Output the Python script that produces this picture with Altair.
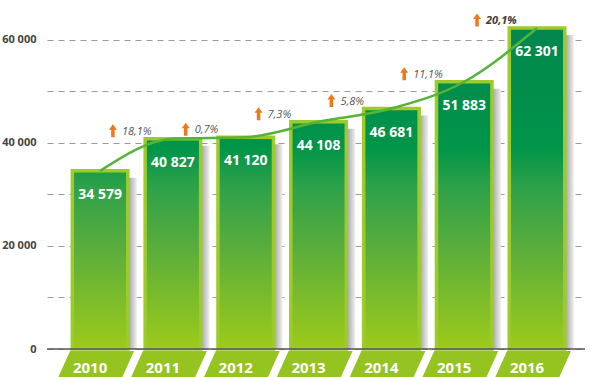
import altair as alt
import pandas as pd

# ---- data ----
years = [2010, 2011, 2012, 2013, 2014, 2015, 2016]
sales = [34579, 40827, 41120, 44108, 46681, 51883, 62301]
growth_years = [2011, 2012, 2013, 2014, 2015, 2016]
growth_labels = ["18,1%", "0,7%", "7,3%", "5,8%", "11,1%", "20,1%"]
y_ticks = [0, 10000, 20000, 30000, 40000, 50000, 60000]

df = pd.DataFrame({"year": years, "value": sales})
gdf = pd.DataFrame({
    "year": growth_years,
    "label": growth_labels,
    "value": [sales[years.index(y)] for y in growth_years],
})

# ---- layout / style ----
W, H = 538, 340
FONT = "Open Sans"
x_scale = alt.Scale(domain=[2009.34, 2016.59], nice=False, zero=False)
y_scale = alt.Scale(domain=[0, 66000], nice=False)
X = alt.X("year:Q", scale=x_scale, axis=None)
label_expr = ("datum.value % 20000 == 0 ? "
              "replace(format(datum.value, ','), ',', ' ') : ''")
Y = alt.Y("value:Q", scale=y_scale, axis=alt.Axis(
    values=y_ticks, labelExpr=label_expr, ticks=False, domain=False,
    grid=True, gridDash=[6, 5], gridColor="#9a9a9a", gridWidth=1,
    labelFont=FONT, labelFontWeight="bold", labelFontSize=11,
    labelColor="#444444", labelPadding=11, title=None))

G_TOP = 63000
stops = [("#03854f", 0.0), ("#009549", 0.38), ("#2ea14a", 0.5),
         ("#5cae3b", 0.7), ("#9dca1a", 1.0)]
BAR_W = 55.5

PARA = "M -0.631 -0.375 L 0.969 -0.375 L 0.631 0.375 L -0.969 0.375 Z"
ARROW = "M 0 -1 L 0.62 -0.15 L 0.27 -0.15 L 0.27 1 L -0.27 1 L -0.27 -0.15 L -0.62 -0.15 Z"

base = alt.Chart(df)

shadow = base.mark_bar(
    width=BAR_W, xOffset=9, yOffset=7, y2Offset=0,
    fill={"gradient": "linear", "x1": 0, "x2": 1, "y1": 0, "y2": 0,
          "stops": [{"color": "#a0a0a0", "offset": 0},
                    {"color": "#a0a0a0", "offset": 0.84},
                    {"color": "#f0f0f0", "offset": 1}]},
).encode(x=X, y=Y, y2=alt.datum(0))

bars = []
for yr, v in zip(years, sales):
    y1 = 1 - G_TOP / v
    grad = {"gradient": "linear", "x1": 0, "x2": 0, "y1": y1, "y2": 1,
            "stops": [{"color": c, "offset": o} for c, o in stops]}
    bars.append(
        base.transform_filter(alt.datum.year == yr)
        .mark_bar(width=BAR_W, fill=grad, stroke="#9ccb2b", strokeWidth=3.5)
        .encode(x=X, y=Y)
    )

trend = base.mark_line(interpolate="monotone", stroke="#55b337",
                       strokeWidth=2.5).encode(x=X, y=Y)

value_text = base.transform_calculate(
    lab="replace(format(datum.value, ','), ',', ' ')"
).mark_text(font=FONT, fontWeight="bold", fontSize=14, color="white",
            baseline="middle", dy=24).encode(x=X, y=Y, text="lab:N")

arrows = alt.Chart(gdf).mark_point(
    shape=ARROW, filled=True, size=169, fill="#ec7a1c", opacity=1,
    strokeWidth=0, xOffset=-60, yOffset=-8).encode(x=X, y=Y)

pct = alt.Chart(gdf).transform_filter(alt.datum.year != 2016).mark_text(
    font=FONT, fontStyle="italic", fontSize=11, color="#555555",
    align="left", baseline="middle", dx=-51, dy=-7).encode(x=X, y=Y, text="label:N")
pct_last = alt.Chart(gdf).transform_filter(alt.datum.year == 2016).mark_text(
    font=FONT, fontStyle="italic", fontWeight="bold", fontSize=11,
    color="#3d3d3d", align="left", baseline="middle", dx=-51, dy=-7
).encode(x=X, y=Y, text="label:N")

zero = alt.Chart(pd.DataFrame({"value": [0]})).mark_rule(
    color="#555555", strokeWidth=1.5).encode(
    y=Y, x=alt.value(0), x2=alt.value(W))

para = base.mark_point(shape=PARA, size=6400, filled=True, fill="#95c320",
                       opacity=1, strokeWidth=0, xOffset=-4.75).encode(
    x=X, y=alt.value(357))

year_text = base.mark_text(font=FONT, fontWeight="bold", fontSize=15,
                           color="white", baseline="middle", xOffset=-10).encode(
    x=X, y=alt.value(358.5), text="year:N")

chart = alt.layer(
    shadow, *bars, trend, value_text, arrows, pct, pct_last,
    zero, para, year_text
).properties(
    width=W, height=H,
    autosize=alt.AutoSizeParams(type="none"),
    padding={"left": 47, "top": 9, "right": 15, "bottom": 28},
    background="white",
).configure_view(stroke=None)

chart.save("out.html", embed_options={"renderer": "svg", "actions": False})
